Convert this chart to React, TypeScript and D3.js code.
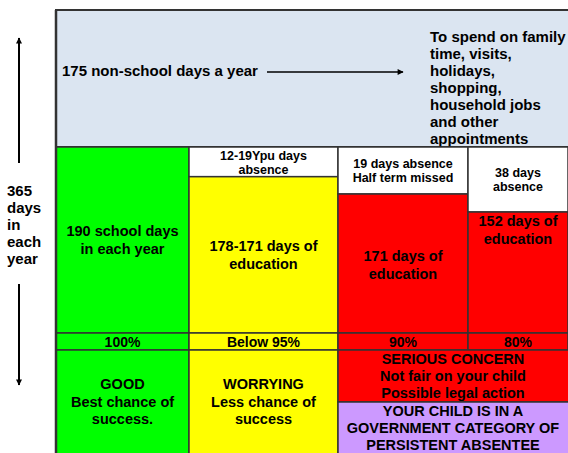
import React, { useRef, useEffect } from "react";
import * as d3 from "d3";

// data
const percentLabels = ["100%", "Below 95%", "90%", "80%"];
const educationDays = [190, 178, 171, 152];
const barColors = ["#00ff00", "#ffff00", "#ff0000", "#ff0000"];
const educationLabels = [
  ["190 school days", "in each year"],
  ["178-171 days of", "education"],
  ["171 days of", "education"],
  ["152 days of", "education"],
];
const absenceLabels = [
  [],
  ["12-19Ypu days", "absence"],
  ["19 days absence", "Half term missed"],
  ["38 days", "absence"],
];
const nonSchoolLabel = "175 non-school days a year";
const nonSchoolUses = [
  "To spend on family",
  "time, visits,",
  "holidays,",
  "shopping,",
  "household jobs",
  "and other",
  "appointments",
];
const yearLabel = ["365", "days", "in", "each", "year"];
const goodLabel = ["GOOD", "Best chance of", "success."];
const worryLabel = ["WORRYING", "Less chance of", "success"];
const concernLabel = ["SERIOUS CONCERN", "Not fair on your child", "Possible legal action"];
const absenteeLabel = ["YOUR CHILD IS IN A", "GOVERNMENT CATEGORY OF", "PERSISTENT ABSENTEE"];

const W = 568;
const H = 453;
const left = 56;
const top = 10;
const barTop = 147;
const stripTop = 333;
const stripBottom = 350;
const purpleTop = 402;
const colWidths = [133, 149, 130, 100];
const font = "'Liberation Sans', Arial, sans-serif";
const stroke = "#333";

const App = () => {
  const svgRef = useRef<SVGSVGElement>(null);

  useEffect(() => {
    const svg = d3.select(svgRef.current);
    svg.selectAll("*").remove();

    // column edges
    const edges = [left];
    colWidths.forEach((w) => edges.push(edges[edges.length - 1] + w));

    // days -> y (top of the education bar)
    const y = d3.scaleLinear().domain([190, 171, 152]).range([barTop, 194, 212]);

    const defs = svg.append("defs");
    defs
      .append("marker")
      .attr("id", "ah")
      .attr("viewBox", "0 0 10 10")
      .attr("refX", 9)
      .attr("refY", 5)
      .attr("markerWidth", 8)
      .attr("markerHeight", 6)
      .attr("markerUnits", "userSpaceOnUse")
      .attr("orient", "auto")
      .append("path")
      .attr("d", "M0,0L10,5L0,10z")
      .attr("fill", "#000");

    const lines = (g, arr, x, y0, dy, size, anchor = "middle") => {
      arr.forEach((t, i) => {
        g.append("text")
          .attr("x", x)
          .attr("y", y0 + i * dy)
          .attr("dy", "0.35em")
          .attr("text-anchor", anchor)
          .attr("font-family", font)
          .attr("font-weight", "bold")
          .attr("font-size", size)
          .attr("fill", "#000")
          .text(t);
      });
    };

    // top non-school area
    svg
      .append("rect")
      .attr("x", left)
      .attr("y", top)
      .attr("width", W - left + 2)
      .attr("height", barTop - top)
      .attr("fill", "#dbe5f1")
      .attr("stroke", stroke)
      .attr("stroke-width", 2);

    lines(svg, [nonSchoolLabel], 62, 71, 0, 15, "start");
    svg
      .append("line")
      .attr("x1", 267)
      .attr("x2", 403)
      .attr("y1", 72)
      .attr("y2", 72)
      .attr("stroke", "#000")
      .attr("stroke-width", 1.5)
      .attr("marker-end", "url(#ah)");
    lines(svg, nonSchoolUses, 430, 37, 17, 15, "start");

    // columns
    educationDays.forEach((d, i) => {
      const x0 = edges[i];
      const w = colWidths[i];
      svg
        .append("rect")
        .attr("x", x0)
        .attr("y", barTop)
        .attr("width", w)
        .attr("height", y(d) - barTop)
        .attr("fill", "#fff")
        .attr("stroke", stroke)
        .attr("stroke-width", 1.5);
      svg
        .append("rect")
        .attr("x", x0)
        .attr("y", y(d))
        .attr("width", w)
        .attr("height", stripTop - y(d))
        .attr("fill", barColors[i])
        .attr("stroke", stroke)
        .attr("stroke-width", 1.5);
      svg
        .append("rect")
        .attr("x", x0)
        .attr("y", stripTop)
        .attr("width", w)
        .attr("height", stripBottom - stripTop)
        .attr("fill", barColors[i])
        .attr("stroke", stroke)
        .attr("stroke-width", 1.5);

      const cx = x0 + w / 2;
      const ab = absenceLabels[i];
      if (ab.length) {
        const mid = (barTop + y(d)) / 2;
        lines(svg, ab, cx, mid - 7 + (i === 1 ? 1 : 0), 14, 12.5);
      }
      const eduY = [231, 246, 256, 221][i];
      lines(svg, educationLabels[i], cx, eduY, 18, 14.5);
      lines(svg, [percentLabels[i]], cx, (stripTop + stripBottom) / 2 + 0.5, 0, 14);
    });

    // bottom boxes
    const boxes = [
      { x0: edges[0], x1: edges[1], y0: stripBottom, y1: H + 2, fill: barColors[0] },
      { x0: edges[1], x1: edges[2], y0: stripBottom, y1: H + 2, fill: barColors[1] },
      { x0: edges[2], x1: W + 2, y0: stripBottom, y1: purpleTop, fill: "#ff0000" },
      { x0: edges[2], x1: W + 2, y0: purpleTop, y1: H + 2, fill: "#cc99ff" },
    ];
    boxes.forEach((b) => {
      svg
        .append("rect")
        .attr("x", b.x0)
        .attr("y", b.y0)
        .attr("width", b.x1 - b.x0)
        .attr("height", b.y1 - b.y0)
        .attr("fill", b.fill)
        .attr("stroke", stroke)
        .attr("stroke-width", 1.5);
    });
    lines(svg, goodLabel, (edges[0] + edges[1]) / 2, 384, 17.5, 14.5);
    lines(svg, worryLabel, (edges[1] + edges[2]) / 2, 384, 17.5, 14.5);
    lines(svg, concernLabel, (edges[2] + W) / 2, 359, 17, 14.5);
    lines(svg, absenteeLabel, (edges[2] + W) / 2, 411, 17, 14.5);

    // outer left border
    svg
      .append("line")
      .attr("x1", left)
      .attr("x2", left)
      .attr("y1", top)
      .attr("y2", H)
      .attr("stroke", stroke)
      .attr("stroke-width", 2.5);

    // 365 days side label
    svg
      .append("line")
      .attr("x1", 19)
      .attr("x2", 19)
      .attr("y1", 163)
      .attr("y2", 38)
      .attr("stroke", "#000")
      .attr("stroke-width", 2)
      .attr("marker-end", "url(#ah)");
    svg
      .append("line")
      .attr("x1", 19)
      .attr("x2", 19)
      .attr("y1", 284)
      .attr("y2", 385)
      .attr("stroke", "#000")
      .attr("stroke-width", 2)
      .attr("marker-end", "url(#ah)");
    lines(svg, yearLabel, 7, 191, 17, 15, "start");
  }, []);

  return (
    <svg
      ref={svgRef}
      width={W}
      height={H}
      style={{ position: "absolute", left: 0, top: 0, background: "#fff" }}
    />
  );
};

export default App;
